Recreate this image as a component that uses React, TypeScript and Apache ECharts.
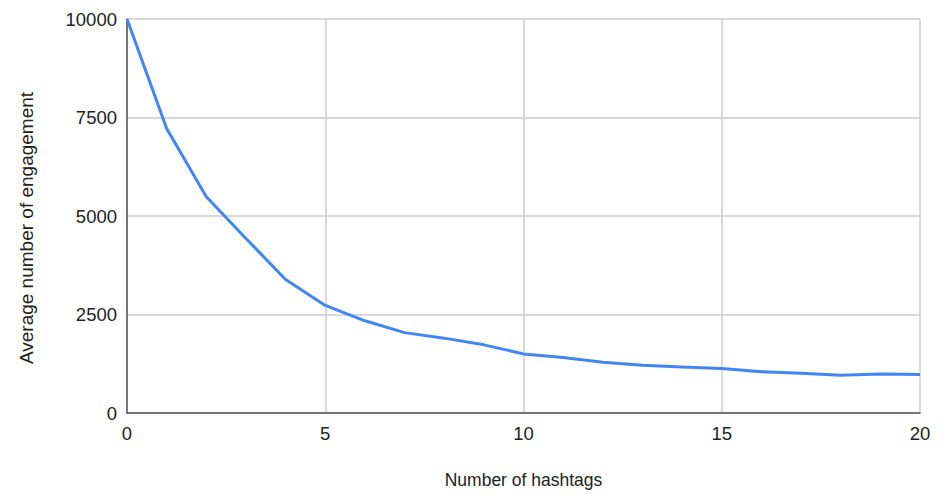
import React, { useEffect, useRef } from "react";
import * as echarts from "echarts";

const hashtags = [0, 1, 2, 3, 4, 5, 6, 7, 8, 9, 10, 11, 12, 13, 14, 15, 16, 17, 18, 19, 20];
const engagement = [10000, 7220, 5490, 4430, 3390, 2730, 2340, 2040, 1900, 1730, 1500, 1410, 1290, 1210, 1170, 1130, 1050, 1010, 960, 990, 980];
const xTitle = "Number of hashtags";
const yTitle = "Average number of engagement";

export default function App() {
  const ref = useRef<HTMLDivElement>(null);
  useEffect(() => {
    if (!ref.current) return;
    const chart = echarts.init(ref.current, null, { renderer: "svg" });
    const font = "'Liberation Sans', Arial, sans-serif";
    chart.setOption({
      animation: false,
      grid: { left: 127, right: 29, top: 19, bottom: 78 },
      graphic: [
        {
          type: "text",
          x: 26,
          y: 228,
          rotation: Math.PI / 2,
          style: {
            text: yTitle,
            fontFamily: font,
            fontSize: 19,
            fill: "#222",
            align: "center",
            verticalAlign: "middle",
          },
        },
      ],
      xAxis: {
        type: "value",
        min: 0,
        max: 20,
        interval: 5,
        name: xTitle,
        nameLocation: "middle",
        nameGap: 58,
        nameTextStyle: { fontFamily: font, fontSize: 17.5, color: "#222" },
        axisLine: { show: true, lineStyle: { color: "#555", width: 1.5 } },
        axisTick: { show: false },
        axisLabel: { fontFamily: font, fontSize: 18.5, color: "#222", margin: 11 },
        splitLine: { show: true, lineStyle: { color: "#cccccc", width: 1.5 } },
      },
      yAxis: {
        type: "value",
        min: 0,
        max: 10000,
        interval: 2500,
        axisLine: { show: true, lineStyle: { color: "#555", width: 1.5 } },
        axisTick: { show: false },
        axisLabel: { fontFamily: font, fontSize: 18.5, color: "#222", margin: 10, formatter: (v: number) => String(v) },
        splitLine: { show: true, lineStyle: { color: "#cccccc", width: 1.5 } },
      },
      series: [
        {
          type: "line",
          data: hashtags.map((h, i) => [h, engagement[i]]),
          showSymbol: false,
          lineStyle: { color: "#4285f4", width: 3 },
          itemStyle: { color: "#4285f4" },
        },
      ],
    });
    return () => chart.dispose();
  }, []);
  return <div ref={ref} style={{ width: 949, height: 494, position: "absolute", left: 0, top: 0, background: "#fff" }} />;
}
